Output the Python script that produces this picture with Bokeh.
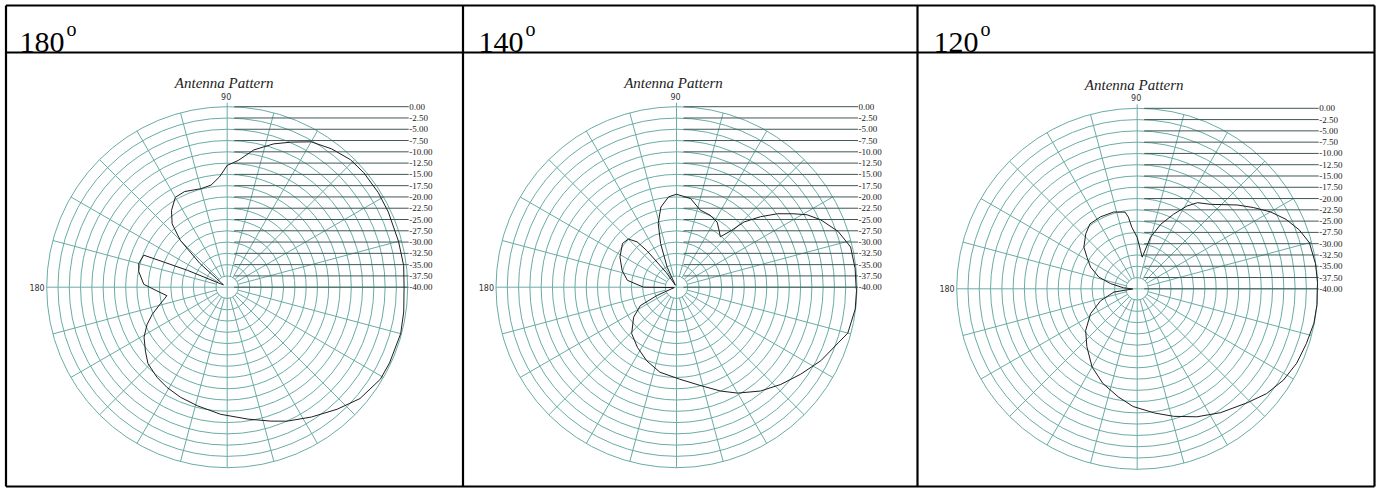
import math
from bokeh.plotting import figure
from bokeh.models import Range1d
from bokeh.core.properties import value
from bokeh.embed import file_html
from bokeh.resources import INLINE

# ---------------- data ----------------
HEADERS = ["180", "140", "120"]
TITLE = "Antenna Pattern"
RING_DB = [0.0, -2.5, -5.0, -7.5, -10.0, -12.5, -15.0, -17.5, -20.0,
           -22.5, -25.0, -27.5, -30.0, -32.5, -35.0, -37.5, -40.0]
RING_LABELS = ["0.00", "-2.50", "-5.00", "-7.50", "-10.00", "-12.50", "-15.00",
               "-17.50", "-20.00", "-22.50", "-25.00", "-27.50", "-30.00",
               "-32.50", "-35.00", "-37.50", "-40.00"]
SPOKE_DEG = [0, 15, 30, 45, 60, 75, 90, 105, 120, 135, 150, 165,
             180, 195, 210, 225, 240, 255, 270, 285, 300, 315, 330, 345]
AXIS_TOP_LABEL = "90"
AXIS_LEFT_LABEL = "180"
DB_MIN = -40.0

# 180 degree pattern
ANG_180 = [0, 7, 15, 25, 32, 40, 46, 53, 60, 66, 72, 79, 85, 90, 94, 99, 105,
           114, 120, 126, 131, 135, 139, 141, 147, 153, 157, 158.5, 159, 165,
           170, 178, 183, 188, 190, 194, 200, 205, 211, 218, 224, 232, 239,
           247, 256, 267, 279, 288, 294, 303, 312, 320, 329, 335, 345, 352]
DB_180 = [-0.8, -0.6, -0.7, -0.6, -0.5, -0.5, -0.7, -1.6, -2.8, -4.8, -6.6,
          -9.0, -11.8, -13.0, -15.5, -17.1, -17.4, -16.8, -17.0, -19.0, -21.4,
          -25.3, -32.0, -37.0, -39.0, -38.3, -30.4, -24.0, -20.2, -19.7, -20.1,
          -21.5, -24.4, -26.5, -26.0, -24.7, -22.3, -20.4, -18.5, -17.0, -15.6,
          -14.7, -14.1, -13.5, -12.9, -11.8, -10.4, -8.8, -7.5, -5.7, -3.6,
          -1.6, -0.4, -0.3, -0.2, -0.5]

# 140 degree pattern
ANG_140 = [0, 6, 13, 19, 25, 29, 32, 36, 40, 44, 46, 49, 53, 58, 65, 73, 81,
           90, 95, 101, 106, 110, 115, 119, 125, 129, 131, 135, 141, 152, 163,
           172, 180, 181, 190, 203, 207, 215, 226, 237, 248, 259, 272, 284,
           293, 300, 309, 317, 325, 333, 341, 345, 353, 359]
DB_140 = [-0.2, -0.2, -0.4, -2.1, -4.7, -6.9, -9.3, -12.3, -15.7, -19.2,
          -22.6, -25.2, -24.3, -23.0, -22.4, -22.1, -20.1, -19.4, -19.9, -21.9,
          -25.3, -29.7, -35.1, -39.5, -36.0, -29.6, -26.7, -24.9, -24.6, -25.8,
          -27.4, -29.0, -32.7, -37.0, -39.5, -35.3, -31.0, -28.4, -25.7, -24.1,
          -22.4, -20.8, -19.6, -17.5, -15.0, -12.9, -10.4, -8.4, -6.4, -4.1,
          -2.1, -0.7, -0.1, -0.1]

# 120 degree pattern
ANG_120 = [0, 2, 8, 15, 20, 25, 30, 35, 40, 49, 55, 59, 64, 70, 75.5, 81, 85,
           90, 95, 97, 99, 107, 117, 126, 133, 142, 148, 155, 163, 169, 176,
           182, 188, 198, 208, 219, 229, 240, 250, 260, 268, 278, 286, 295,
           304, 314, 321, 328, 335, 342, 349, 355]
DB_120 = [-0.1, 0.0, -0.1, -0.5, -1.8, -3.6, -5.9, -8.6, -11.1, -15.2, -16.7,
          -18.6, -21.6, -24.8, -28.2, -32.9, -31.5, -28.6, -26.3, -24.0, -22.8,
          -22.2, -22.1, -22.2, -23.3, -25.0, -26.9, -28.6, -31.1, -34.0, -37.0,
          -39.0, -34.8, -31.5, -28.3, -25.3, -23.0, -20.0, -17.7, -15.7, -13.9,
          -12.2, -10.6, -8.7, -6.9, -4.9, -3.1, -1.8, -1.0, -0.6, -0.1, 0.0]

PATTERNS = [(ANG_180, DB_180), (ANG_140, DB_140), (ANG_120, DB_120)]

# ---------------- layout / style ----------------
W, H = 1383, 488
GRID = "#6aaca6"
LABEL_LINE = "#3f5855"
CURVE = "#1e1e1e"
SERIF = "Liberation Serif"

TABLE_L, TABLE_R, TABLE_T, TABLE_B = 5.5, 1374, 5, 486
HEADER_Y = 52
COL_X = [462.5, 917]
HEADER_X = [19, 478, 933]
CENTERS = [(226.7, 286.7), (676.0, 286.7), (1136.7, 288.3)]
R = 180.5

p = figure(width=W, height=H, x_range=Range1d(0, W), y_range=Range1d(H, 0),
           output_backend="svg", toolbar_location=None, min_border=0,
           x_axis_type=None, y_axis_type=None)
p.grid.visible = False
p.outline_line_color = None
p.background_fill_color = "white"
p.border_fill_color = "white"

# table
p.segment(x0=[TABLE_L, TABLE_L, TABLE_L, TABLE_R, TABLE_L] + COL_X,
          y0=[TABLE_T, TABLE_B, TABLE_T, TABLE_T, HEADER_Y] + [TABLE_T, TABLE_T],
          x1=[TABLE_R, TABLE_R, TABLE_L, TABLE_R, TABLE_R] + COL_X,
          y1=[TABLE_T, TABLE_B, TABLE_B, TABLE_B, HEADER_Y] + [TABLE_B, TABLE_B],
          line_color="black", line_width=2.2)

p.text(x=HEADER_X, y=[41.5] * 3, text=HEADERS, text_font=value(SERIF),
       text_font_size="30px", text_baseline="alphabetic", text_color="black")
p.text(x=[hx + 47 for hx in HEADER_X], y=[28.5] * 3, text=["o"] * 3,
       text_font=value(SERIF), text_font_size="20px",
       text_baseline="alphabetic", text_color="black")

k = R / 40.0
for (cx, cy), (ang, db) in zip(CENTERS, PATTERNS):
    # rings
    radii = [(d - DB_MIN) * k for d in RING_DB if d > DB_MIN]
    p.circle(x=[cx] * len(radii), y=[cy] * len(radii), radius=radii,
             fill_color=None, line_color=GRID, line_width=1)
    # spokes
    x0, y0, x1, y1 = [], [], [], []
    for a in SPOKE_DEG:
        t = math.radians(a)
        r0 = 0 if a % 90 == 0 else k * 2.5
        x0.append(cx + r0 * math.cos(t)); y0.append(cy - r0 * math.sin(t))
        x1.append(cx + R * math.cos(t)); y1.append(cy - R * math.sin(t))
    p.segment(x0=x0, y0=y0, x1=x1, y1=y1, line_color=GRID, line_width=1)
    p.segment(x0=[cx], y0=[cy - R - 4], x1=[cx], y1=[cy - R], line_color=GRID, line_width=1)
    # dB label lines
    ly = [cy - (d - DB_MIN) * k for d in RING_DB]
    p.segment(x0=[cx + 7] * len(ly), y0=ly, x1=[cx + R + 1] * len(ly), y1=ly,
              line_color=LABEL_LINE, line_width=1)
    p.text(x=[cx + R + 1.5] * len(ly), y=ly, text=RING_LABELS, text_font=value(SERIF),
           text_font_size="9px", text_baseline="middle", text_align="left",
           text_color="#222222")
    p.text(x=[cx - 1], y=[cy - R - 7], text=[AXIS_TOP_LABEL], text_font=value("DejaVu Sans"),
           text_font_size="8px", text_baseline="bottom", text_align="center", text_color="#333333")
    p.text(x=[cx - R - 2], y=[cy], text=[AXIS_LEFT_LABEL], text_font=value("DejaVu Sans"),
           text_font_size="8px", text_baseline="middle", text_align="right", text_color="#333333")
    p.text(x=[cx - 3], y=[cy - 204], text=[TITLE], text_font=value(SERIF),
           text_font_style="italic", text_font_size="15px", text_baseline="middle",
           text_align="center", text_color="#222222")
    # pattern curve
    xs = [cx + (d - DB_MIN) * k * math.cos(math.radians(a)) for a, d in zip(ang, db)]
    ys = [cy - (d - DB_MIN) * k * math.sin(math.radians(a)) for a, d in zip(ang, db)]
    xs.append(xs[0]); ys.append(ys[0])
    p.line(xs, ys, line_color=CURVE, line_width=1)

open("out.html", "w").write(file_html(p, INLINE))
